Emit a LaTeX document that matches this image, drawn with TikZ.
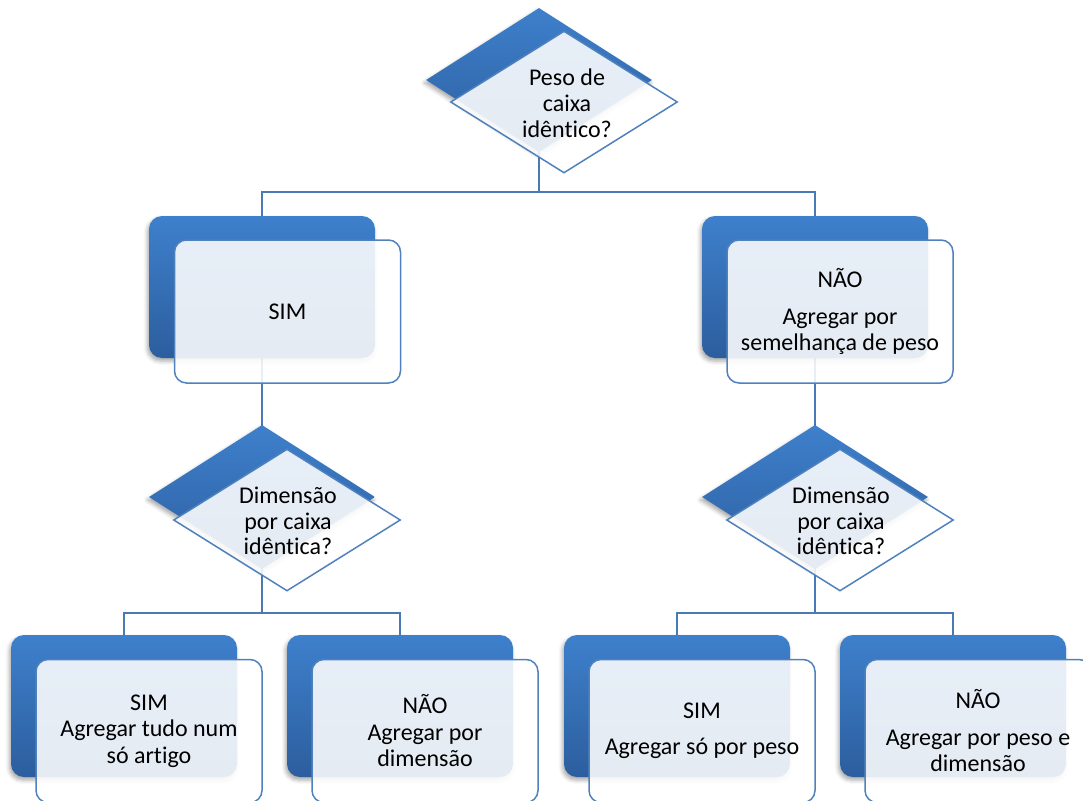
\documentclass[tikz,border=0pt]{standalone}
\usepackage{fontspec}
\setmainfont{Carlito}[Ligatures=NoCommon]
\usetikzlibrary{shapes.geometric,backgrounds,shadows.blur}

\definecolor{backtop}{HTML}{3E80CC}
\definecolor{backbot}{HTML}{2C5E9E}
\definecolor{edge}{HTML}{4F81BD}
\definecolor{link}{HTML}{4A7AB6}

\tikzset{
  softshadow/.style={blur shadow={shadow xshift=-1.5pt, shadow yshift=-3pt,
      shadow blur radius=4pt, shadow opacity=35}},
  backbox/.style={rectangle, rounded corners=13pt, minimum width=226pt,
      minimum height=142pt, inner sep=0pt, top color=backtop,
      bottom color=backbot, softshadow},
  frontbox/.style={rectangle, rounded corners=12pt, minimum width=226pt,
      minimum height=143pt, inner sep=0pt, draw=edge, line width=1.5pt,
      fill=white, fill opacity=0.88, text opacity=1, align=center,
      font=\fontsize{24}{26.5}\selectfont},
  backdia/.style={diamond, minimum width=226pt, minimum height=144pt,
      inner sep=0pt, top color=backtop, bottom color=backbot, softshadow},
  frontdia/.style={diamond, minimum width=227pt, minimum height=142pt,
      inner sep=0pt, draw=edge, line width=1.5pt, fill=white,
      fill opacity=0.88},
  dialabel/.style={align=center, inner sep=0pt,
      font=\fontsize{24}{25.8}\selectfont},
  conn/.style={draw=link, line width=2pt},
}

\begin{document}
\begin{tikzpicture}[x=1pt, y=-1pt]
  \useasboundingbox (0,0) rectangle (1083,800);

  % junction points of the tree bars
  \coordinate (j0) at (539,192);
  \coordinate (j1) at (262,613);
  \coordinate (j2) at (815,613);

  % top decision
  \node[backdia]  (d0b) at (539,80) {};
  \node[frontdia] (d0f) at (564,102) {};
  \node[dialabel] (t0)  at (567,103) {Peso de\\caixa\\idêntico?};

  % second level
  \node[backbox]  (b1b) at (262,287) {};
  \node[frontbox] (b1f) at (287.5,311.5) {SIM};
  \node[backbox]  (b2b) at (815,287) {};
  \node[frontbox] (b2f) at (840,311.5) {NÃO\\[10pt]Agregar por\\semelhança de peso};

  % second decisions
  \node[backdia]  (d1b) at (262,497) {};
  \node[frontdia] (d1f) at (287,520) {};
  \node[dialabel] (t1)  at (288,521) {Dimensão\\por caixa\\idêntica?};
  \node[backdia]  (d2b) at (815,497) {};
  \node[frontdia] (d2f) at (840,520) {};
  \node[dialabel] (t2)  at (841,521) {Dimensão\\por caixa\\idêntica?};

  % outcomes
  \node[backbox]  (c1b) at (124,706) {};
  \node[frontbox] (c1f) at (149,731) {SIM\\Agregar tudo num\\só artigo};
  \node[backbox]  (c2b) at (400,706) {};
  \node[frontbox] (c2f) at (425,731) {NÃO\\Agregar por\\dimensão};
  \node[backbox]  (c3b) at (677,706) {};
  \node[frontbox] (c3f) at (702,731) {SIM\\[10pt]Agregar só por peso};
  \node[backbox]  (c4b) at (953,706) {};
  \node[frontbox] (c4f) at (978,731) {NÃO\\[10pt]Agregar por peso e\\dimensão};

  \begin{pgfonlayer}{background}
    \draw[conn] (d0b.center) -- (j0) -| (b1b.north);
    \draw[conn] (j0) -| (b2b.north);
    \draw[conn] (b1b.center) -- (d1b.center);
    \draw[conn] (b2b.center) -- (d2b.center);
    \draw[conn] (d1b.center) -- (j1) -| (c1b.north);
    \draw[conn] (j1) -| (c2b.north);
    \draw[conn] (d2b.center) -- (j2) -| (c3b.north);
    \draw[conn] (j2) -| (c4b.north);
  \end{pgfonlayer}
\end{tikzpicture}
\end{document}
